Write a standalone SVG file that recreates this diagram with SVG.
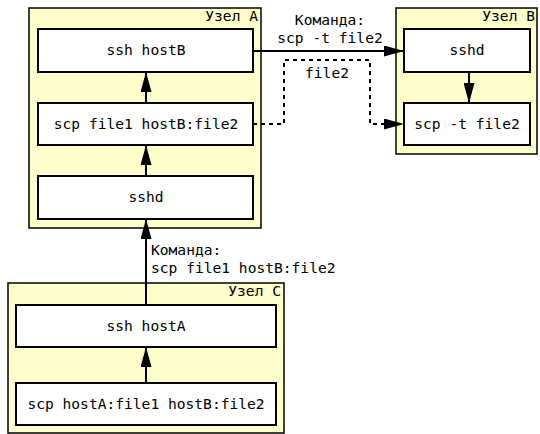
<svg xmlns="http://www.w3.org/2000/svg" width="540" height="434" viewBox="0 0 540 434">
<style>
.host{fill:#ffffcc;stroke:#000;stroke-width:1.5}
.box{fill:#fff;stroke:#000;stroke-width:2}
text{font-family:"DejaVu Sans Mono","Liberation Mono",monospace;font-size:14.6px;fill:#000}
.c{text-anchor:middle}
.r{text-anchor:end}
.ln{fill:none;stroke:#000;stroke-width:2}
.dash{fill:none;stroke:#000;stroke-width:2;stroke-dasharray:4,4}
</style>
<defs>
<marker id="ah" markerWidth="20" markerHeight="11" refX="20" refY="5.5" orient="auto" markerUnits="userSpaceOnUse">
<path d="M0,0 L20,5.5 L0,11 Z" fill="#000"/>
</marker>
</defs>
<g id="hostA">
<rect class="host" x="29" y="8" width="232" height="220"/>
<text class="r" x="258" y="21">Узел A</text>
</g>
<g id="hostB">
<rect class="host" x="396" y="8" width="141" height="146"/>
<text class="r" x="535" y="21">Узел B</text>
</g>
<g id="hostC">
<rect class="host" x="8" y="283" width="276" height="150"/>
<text class="r" x="281" y="296">Узел C</text>
</g>
<g id="sshHostB">
<rect class="box" x="38" y="29" width="215" height="43"/>
<text class="c" x="146" y="55">ssh hostB</text>
</g>
<g id="scpFile1">
<rect class="box" x="38" y="103" width="215" height="42"/>
<text class="c" x="146" y="129">scp file1 hostB:file2</text>
</g>
<g id="sshdA">
<rect class="box" x="38" y="176" width="215" height="43"/>
<text class="c" x="146" y="202">sshd</text>
</g>
<g id="sshdB">
<rect class="box" x="404" y="29" width="126" height="43"/>
<text class="c" x="467" y="55">sshd</text>
</g>
<g id="scpT">
<rect class="box" x="404" y="103" width="126" height="42"/>
<text class="c" x="467" y="129">scp -t file2</text>
</g>
<g id="sshHostA">
<rect class="box" x="16" y="305" width="260" height="42"/>
<text class="c" x="146" y="331">ssh hostA</text>
</g>
<g id="scpHostA">
<rect class="box" x="16" y="383" width="260" height="42"/>
<text class="c" x="146" y="409">scp hostA:file1 hostB:file2</text>
</g>
<g id="connectors">
<line class="ln" x1="146" y1="103" x2="146" y2="72" marker-end="url(#ah)"/>
<line class="ln" x1="146" y1="176" x2="146" y2="145" marker-end="url(#ah)"/>
<line class="ln" x1="146" y1="305" x2="146" y2="219" marker-end="url(#ah)"/>
<line class="ln" x1="146" y1="383" x2="146" y2="347" marker-end="url(#ah)"/>
<line class="ln" x1="469" y1="72" x2="469" y2="103" marker-end="url(#ah)"/>
<line class="ln" x1="253" y1="51" x2="404" y2="51" marker-end="url(#ah)"/>
<path class="dash" d="M253,124 H284 V60 H370 V124 H404" marker-end="url(#ah)"/>
<text class="c" x="330" y="25">Команда:</text>
<text class="c" x="330" y="43">scp -t file2</text>
<text class="c" x="327" y="78">file2</text>
<text x="151" y="255">Команда:</text>
<text x="151" y="273">scp file1 hostB:file2</text>
</g>
</svg>
